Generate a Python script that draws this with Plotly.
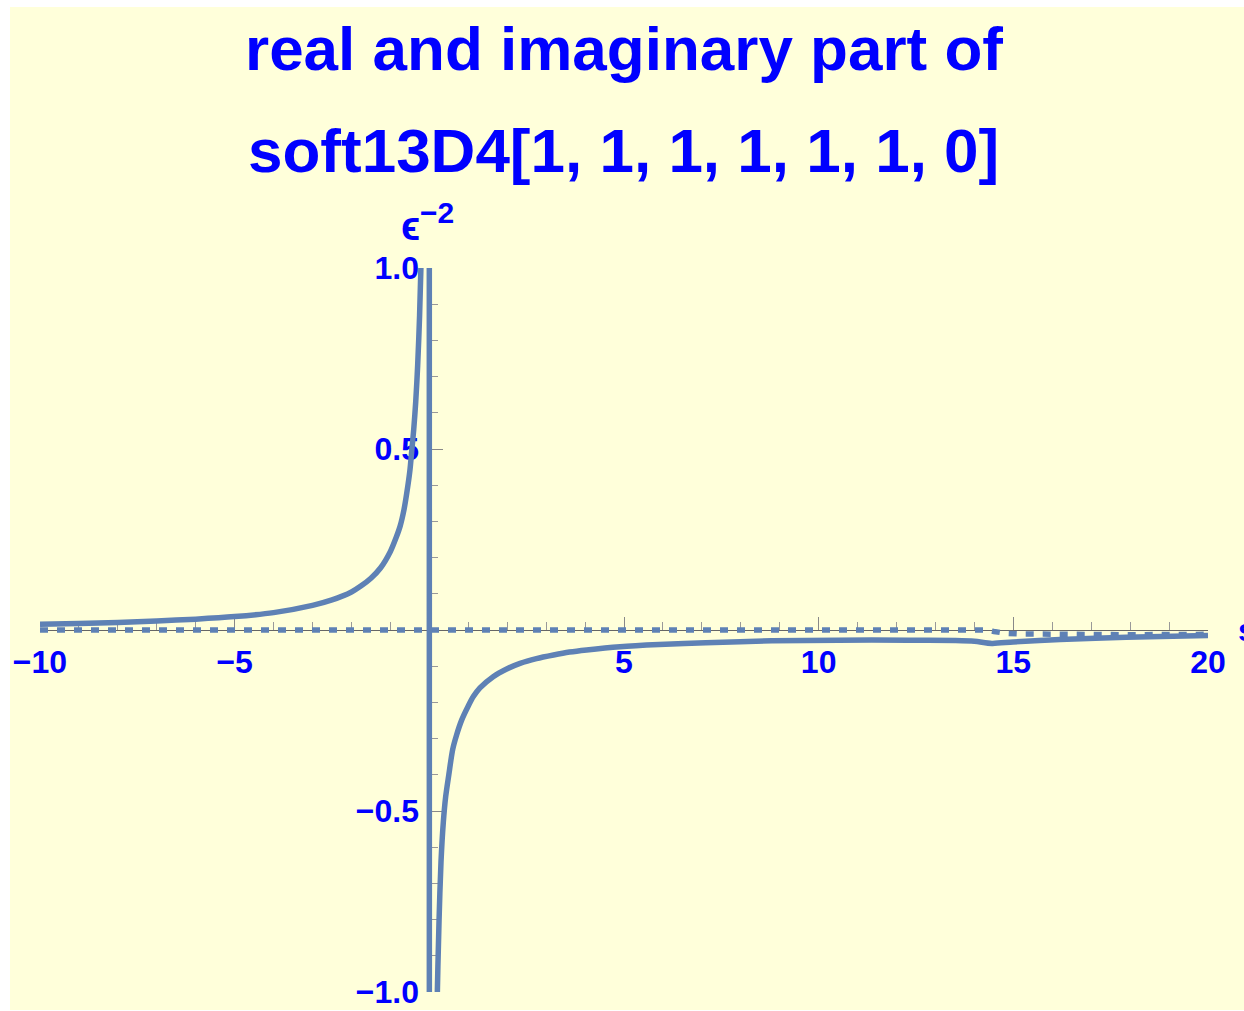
import plotly.graph_objects as go

# ---- data -------------------------------------------------------------
# real part: s < 0 branch, jump across the pole at s = 0, s > 0 branch
s_real = [
    -10, -9, -8, -7, -6, -5, -4, -3, -2.5, -2, -1.75, -1.5, -1.25, -1.0,
    -0.85, -0.75, -0.65, -0.58, -0.5, -0.45, -0.4, -0.35, -0.3, -0.25,
    -0.2, -0.15, -0.1, -0.05, -0.01,
    0.01, 0.05, 0.1, 0.15, 0.2, 0.25, 0.3, 0.36, 0.42, 0.5, 0.6, 0.7,
    0.83, 1.0, 1.13, 1.3, 1.64, 2.0, 2.33, 2.75, 3.19, 3.6, 4.04, 4.9,
    5.9, 7.1, 8.8, 10.5, 12.3, 13.5, 14.0, 14.45, 15.0, 16.2, 17.9, 20,
]
re_part = [
    0.016, 0.018, 0.021, 0.025, 0.030, 0.037, 0.048, 0.068, 0.083, 0.105,
    0.122, 0.143, 0.172, 0.217, 0.256, 0.287, 0.333, 0.378, 0.44, 0.497,
    0.555, 0.63, 0.73, 0.87, 1.08, 1.44, 2.2, 4.4, 22.0,
    -22.0, -4.4, -2.1, -1.4, -1.03, -0.80, -0.64, -0.53, -0.46, -0.40,
    -0.33, -0.29, -0.249, -0.21, -0.184, -0.16, -0.129, -0.107, -0.092,
    -0.079, -0.069, -0.061, -0.055, -0.046, -0.040, -0.035, -0.030,
    -0.028, -0.028, -0.029, -0.031, -0.037, -0.033, -0.026, -0.020, -0.015,
]

# imaginary part: zero below threshold, small negative above it
s_imag = [-10, 14.3, 14.5, 14.8, 15.2, 16, 17, 18, 20]
im_part = [0.0, 0.0, -0.004, -0.009, -0.011, -0.012, -0.013, -0.013, -0.012]

x_ticks = [-10, -5, 5, 10, 15, 20]
y_ticks = [-1.0, -0.5, 0.5, 1.0]
y_tick_text = ["\u22121.0", "\u22120.5", "0.5", "1.0"]

title_lines = ["real and imaginary part of", "soft13D4[1, 1, 1, 1, 1, 1, 0]"]

# ---- styling ----------------------------------------------------------
CURVE = "#5E81B5"
BLUE = "#0000FF"
BG = "#FFFFDA"
FONT = "Liberation Sans, Arial, DejaVu Sans, sans-serif"

fig = go.Figure()
fig.add_trace(go.Scatter(
    x=s_imag, y=im_part, mode="lines",
    line=dict(color=CURVE, width=5.5, dash="8px,9px"),
    showlegend=False, hoverinfo="skip",
))
fig.add_trace(go.Scatter(
    x=s_real, y=re_part, mode="lines",
    line=dict(color=CURVE, width=5.5, shape="spline", smoothing=0.8),
    showlegend=False, hoverinfo="skip",
))

tickfont = dict(family=FONT, size=32, color=BLUE, weight="bold")

fig.update_layout(
    template="none",
    width=1244, height=1011, autosize=False,
    margin=dict(l=40, r=36, t=268, b=19, pad=0),
    paper_bgcolor="white",
    plot_bgcolor="rgba(0,0,0,0)",
    xaxis=dict(
        range=[-10, 20], showgrid=False, zeroline=False, automargin=False,
        showline=True, linecolor="#666666", linewidth=1,
        anchor="free", position=0.5, side="bottom",
        ticks="inside", ticklen=13, tickwidth=1, tickcolor="#888888",
        tickmode="array", tickvals=x_ticks,
        tickfont=tickfont, ticklabelstandoff=4,
        minor=dict(ticks="inside", ticklen=8, tickwidth=1,
                   tickcolor="#999999", tick0=0, dtick=1, showgrid=False),
        layer="below traces",
    ),
    yaxis=dict(
        range=[-1, 1], showgrid=False, zeroline=False, automargin=False,
        showline=True, linecolor="#666666", linewidth=1,
        anchor="free", position=1 / 3, side="left",
        ticks="inside", ticklen=13, tickwidth=1, tickcolor="#888888",
        tickmode="array", tickvals=y_ticks, ticktext=y_tick_text,
        tickfont=tickfont, ticklabelstandoff=4,
        minor=dict(ticks="inside", ticklen=8, tickwidth=1,
                   tickcolor="#999999", tick0=0, dtick=0.1, showgrid=False),
        layer="below traces",
    ),
    shapes=[dict(
        type="rect", xref="paper", yref="paper", layer="below",
        x0=-0.0257, x1=1.031, y0=-0.0249, y1=1.3605,
        fillcolor=BG, line=dict(width=0),
    )],
)

title_font = dict(family=FONT, size=62, color=BLUE, weight="bold")
for line_text, ypos in zip(title_lines, [1.3032, 1.1623]):
    fig.add_annotation(
        text=line_text, xref="paper", yref="paper",
        x=0.4999, y=ypos, xanchor="center", yanchor="middle",
        showarrow=False, font=title_font,
    )

# y-axis label: epsilon with its power
label_font = dict(family=FONT, size=32, color=BLUE, weight="bold")
fig.add_annotation(
    text="\u03f5", xref="paper", yref="paper",
    x=0.3175, y=1.058, xanchor="center", yanchor="middle",
    showarrow=False, font=dict(family=FONT, size=40, color=BLUE, weight="bold"),
)
fig.add_annotation(
    text="\u22122", xref="paper", yref="paper",
    x=0.3395, y=1.077, xanchor="center", yanchor="middle",
    showarrow=False, font=dict(family=FONT, size=30, color=BLUE, weight="bold"),
)
# x-axis label
fig.add_annotation(
    text="s", xref="paper", yref="paper",
    x=1.024, y=0.5, xanchor="left", yanchor="middle",
    showarrow=False, font=label_font,
)

fig.write_html("out.html")
